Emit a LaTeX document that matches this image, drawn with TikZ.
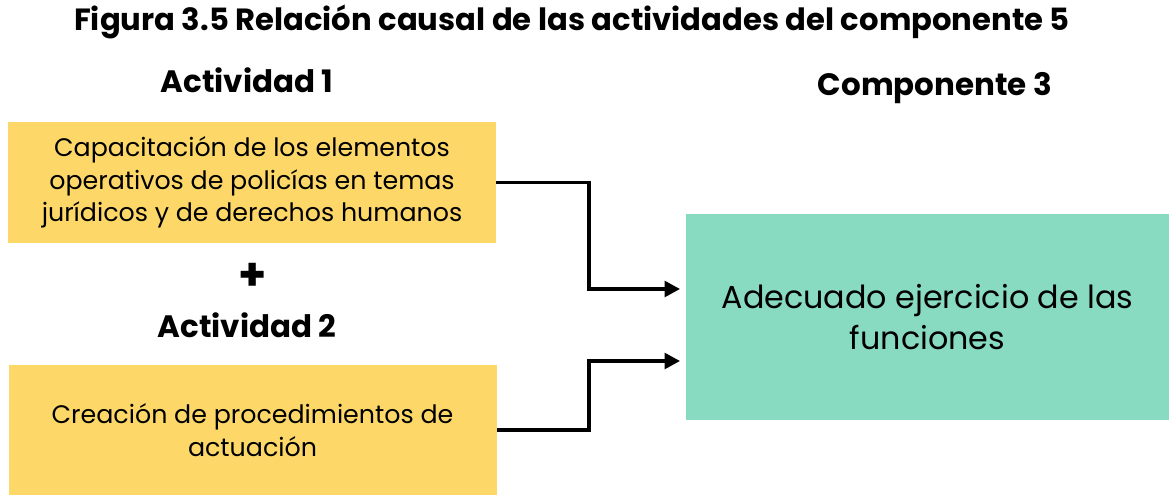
\documentclass[tikz,border=0pt]{standalone}
\usepackage{fontspec}
\setmainfont{Poppins}
\usetikzlibrary{arrows.meta,calc}

\definecolor{amarillo}{HTML}{FDD868}
\definecolor{verde}{HTML}{88DBC0}

\tikzset{
    actividad/.style={fill=amarillo, minimum width=488*0.025cm, align=center,
        font=\fontsize{18}{23}\selectfont, inner sep=0pt},
    componente/.style={fill=verde, minimum width=483*0.025cm, minimum height=206*0.025cm,
        align=center, font=\fontsize{22.6}{29}\selectfont, inner sep=0pt},
    titulo/.style={font=\fontsize{22}{24}\selectfont\bfseries},
    flecha/.style={line width=2.8pt, -{Triangle[length=11pt,width=11pt]}, shorten >=4pt}
}

\begin{document}
\begin{tikzpicture}[x=0.025cm, y=-0.025cm]
                      \useasboundingbox (0,0) rectangle (1169,495);
                      \node[font=\fontsize{21.8}{24}\selectfont\bfseries] (fig) at (572,22) {Figura 3.5 Relación causal de las actividades del componente 5};
                      \node[titulo] (t1) at (247,80) {Actividad 1};
                      \node[titulo] (t3) at (935,88) {Componente 3};

                      \node[actividad, minimum height=121*0.025cm] (act1) at (252,182.5) {Capacitación de los elementos\\operativos de policías en temas\\jurídicos y de derechos humanos};
                      \node[font=\fontsize{32}{32}\selectfont\bfseries] (mas) at (253,277) {+};
                      \node[titulo] (t2) at (247,325) {Actividad 2};
                      \node[actividad, minimum height=130*0.025cm] (act2) at (252.5,430) {Creación de procedimientos de\\actuación};

                      \node[componente] (comp) at (927.5,317) {Adecuado ejercicio de las\\funciones};

                      \draw[flecha] (act1.east) -- ++(93,0) |- ($(comp.west)+(0,-28)$);
                      \draw[flecha] (act2.east) -- ++(92,0) |- ($(comp.west)+(0,44)$);
                  \end{tikzpicture}
\end{document}
